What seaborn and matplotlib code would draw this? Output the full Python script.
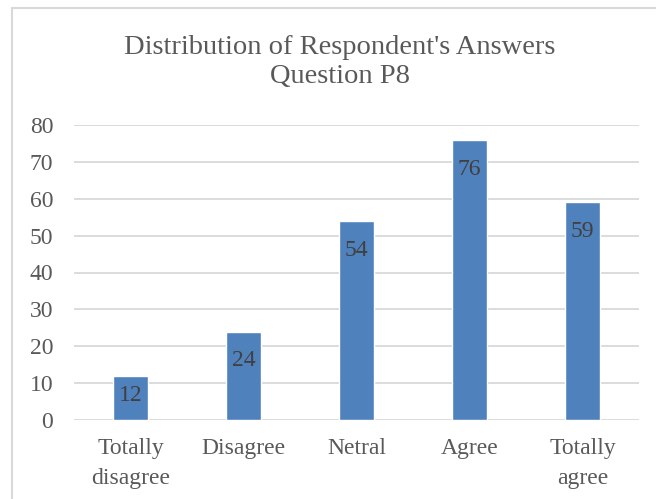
import matplotlib
matplotlib.use("Agg")
import matplotlib.pyplot as plt
import seaborn as sns
import pandas as pd
from matplotlib.lines import Line2D

categories = ["Totally\ndisagree", "Disagree", "Netral", "Agree", "Totally\nagree"]
values = [12, 24, 54, 76, 59]
yticks = [0, 10, 20, 30, 40, 50, 60, 70, 80]
title = "Distribution of Respondent's Answers\nQuestion P8"

sns.set_theme(style="white")
plt.rcParams['font.family'] = ['Liberation Serif', 'DejaVu Serif']

df = pd.DataFrame({"cat": categories, "val": values})

fig = plt.figure(figsize=(6.56, 4.99), dpi=100)
ax = fig.add_axes([74/656, 1-420/499, (639-74)/656, (420-125)/499])

sns.barplot(data=df, x="cat", y="val", color="#4F81BD", saturation=1, width=0.31, ax=ax, zorder=3)

ax.set_ylim(0, 80)
ax.set_yticks(yticks)
ax.set_xlim(-0.5, len(categories)-0.5)
ax.yaxis.grid(True, color="#D9D9D9", linewidth=1.3, zorder=0)
ax.set_axisbelow(True)
for s in ax.spines.values():
    s.set_visible(False)
ax.set_xlabel("")
ax.set_ylabel("")
ax.tick_params(axis="y", length=0, pad=15, labelsize=17, labelcolor="#595959")
ax.tick_params(axis="x", length=0, pad=13, labelsize=17, labelcolor="#595959")
for lbl in ax.get_xticklabels():
    lbl.set_linespacing(1.55)

for i, v in enumerate(values):
    yy = max(v - 8.0, v * 0.55)
    ax.text(i, yy, str(v), ha="center", va="center", fontsize=17, color="#404040", zorder=4)

fig.text(340/656, 1-62/499, title, ha="center", va="center", fontsize=20.5,
         color="#595959", linespacing=1.25)

# chart frame (top & left edges visible)
fig.add_artist(Line2D([12/656, 12/656], [0, 1-8/499], transform=fig.transFigure, color="#D9D9D9", lw=1.5))
fig.add_artist(Line2D([12/656, 1], [1-8/499, 1-8/499], transform=fig.transFigure, color="#D9D9D9", lw=1.5))

fig.savefig("out.png", dpi=100)
